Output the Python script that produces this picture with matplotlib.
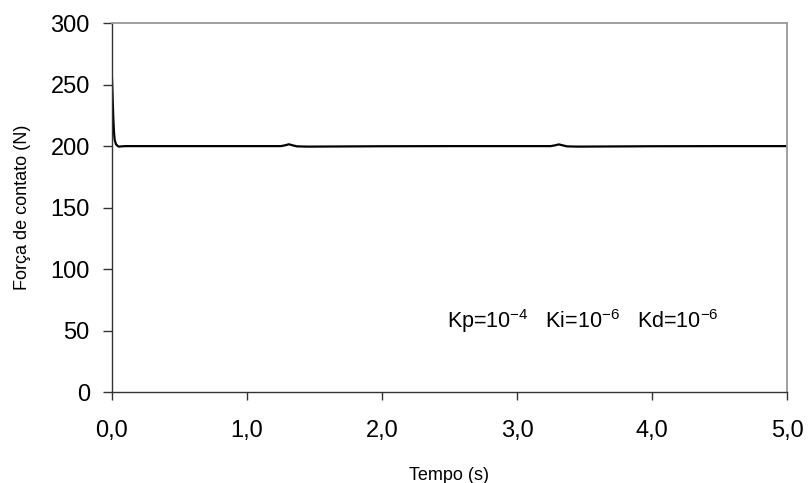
import matplotlib
matplotlib.use("Agg")
import matplotlib.pyplot as plt

# values
tempo = [0.0, 0.005, 0.01, 0.015, 0.02, 0.03, 0.04, 0.05, 0.07, 0.1,
         0.5, 1.0, 1.25, 1.28, 1.31, 1.34, 1.37, 1.45, 2.0, 2.5, 3.0,
         3.25, 3.28, 3.31, 3.34, 3.37, 3.45, 4.0, 4.5, 5.0]
forca = [255, 238, 222, 211, 205, 201.5, 200.3, 199.6, 199.8, 200.0,
         200.0, 200.0, 200.0, 200.6, 201.5, 200.6, 199.8, 199.6, 199.9, 200.0, 200.0,
         200.0, 200.6, 201.4, 200.6, 199.8, 199.6, 199.9, 200.0, 200.0]

x_ticks = [0, 1, 2, 3, 4, 5]
x_labels = ["0,0", "1,0", "2,0", "3,0", "4,0", "5,0"]
y_ticks = [0, 50, 100, 150, 200, 250, 300]

plt.rcParams["font.family"] = ["Liberation Sans", "DejaVu Sans"]
plt.rcParams["mathtext.fontset"] = "custom"
plt.rcParams["mathtext.rm"] = "Liberation Sans"
plt.rcParams["mathtext.it"] = "Liberation Sans"

narrow = ["Liberation Sans Narrow", "Liberation Sans", "DejaVu Sans"]

fig = plt.figure(figsize=(8.08, 4.83), dpi=100)
ax = fig.add_axes([0.1386, 0.1884, 0.974 - 0.1386, 0.952 - 0.1884])

ax.plot(tempo, forca, color="black", lw=1.6)

ax.set_xlim(0, 5)
ax.set_ylim(0, 300)
ax.set_xticks(x_ticks)
ax.set_xticklabels(x_labels, family=narrow, fontsize=17)
ax.set_yticks(y_ticks)
ax.tick_params(axis="y", direction="out", length=6.5, width=1,
               labelsize=17, pad=9.5, color="#333333")
ax.tick_params(axis="x", direction="out", length=6, width=1, pad=14,
               color="#333333")

for side in ("left", "bottom"):
    ax.spines[side].set_color("#333333")
    ax.spines[side].set_linewidth(1)
for side in ("top", "right"):
    ax.spines[side].set_color("#999999")
    ax.spines[side].set_linewidth(1.3)

ax.set_xlabel("Tempo (s)", family=narrow, fontsize=13, labelpad=18)
ax.set_ylabel("Força de contato (N)", fontsize=13, labelpad=14)

ax.text(2.48, 52, r"Kp=10$^{-4}$   Ki=10$^{-6}$   Kd=10$^{-6}$",
        fontsize=15.5, va="baseline", ha="left")

fig.savefig("out.png", dpi=100)
